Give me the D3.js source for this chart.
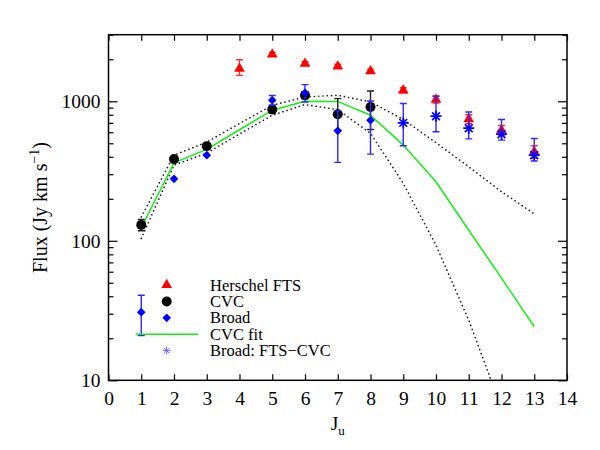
<!DOCTYPE html>
<html lang="en">
<head>
<meta charset="UTF-8">
<title>CO ladder fluxes</title>
<script src="https://d3js.org/d3.v7.min.js"></script>
<style>
    body { margin: 0; background: #fff; }
    svg { font-family: "Liberation Serif", "Times New Roman", serif; }
</style>
</head>
<body>
<svg id="chart" width="600" height="450"></svg>
<script>
// ---- data ----
// Herschel FTS
const ftsJ = [4, 5, 6, 7, 8, 9, 10, 11, 12, 13];
const ftsFlux = [1712, 2167, 1858, 1778, 1645, 1198, 1028, 744, 621, 435];
const ftsLo = [1533, 2100, 1800, 1720, 1590, 1150, 970, 690, 570, 390];
const ftsHi = [1985, 2240, 1920, 1840, 1700, 1250, 1090, 800, 670, 480];

// CVC
const cvcJ = [1, 2, 3, 5, 6, 7, 8];
const cvcFlux = [130, 385, 477, 873, 1104, 807, 911];
const cvcLo = [118, 370, 460, 820, 1040, 620, 628];
const cvcHi = [142, 400, 495, 930, 1170, 1045, 1184];

// Broad
const broadJ = [1, 2, 3, 5, 6, 7, 8];
const broadFlux = [30.8, 278, 411, 1017, 1147, 614, 731];
const broadLo = [20.9, 278, 411, 940, 989, 365, 418];
const broadHi = [40.7, 278, 411, 1100, 1316, 853, 1005];

// Broad: FTS-CVC
const diffJ = [9, 10, 11, 12, 13];
const diffFlux = [700, 782, 641, 581, 411];
const diffLo = [480, 604, 538, 527, 373];
const diffHi = [963, 1086, 838, 740, 541];

// CVC fit and its envelope
const fitJ = [1, 2, 3, 4, 5, 6, 7, 8, 9, 10, 11, 12, 13];
const fitFlux = [124, 362, 452, 625, 863, 1000, 998, 794, 485, 265, 119, 54, 24.2];
const fitUpper = [148, 411, 510, 692, 936, 1073, 1104, 989, 740, 505, 339, 225, 156];
const fitLower = [104, 349, 425, 582, 794, 947, 870, 590, 258, 93, 27, 6.3, 1.2];

const xTicks = d3.range(0, 15);
const yMajor = [10, 100, 1000];
const yMinor = [20, 30, 40, 50, 60, 70, 80, 90, 200, 300, 400, 500, 600, 700, 800, 900, 2000, 3000];

const legendItems = ["Herschel FTS", "CVC", "Broad", "CVC fit", "Broad: FTS\u2212CVC"];

// ---- layout ----
const margin = { left: 108.5, top: 34.7, right: 33, bottom: 69.7 };
const width = 600 - margin.left - margin.right;
const height = 450 - margin.top - margin.bottom;

const svg = d3.select("#chart");
const g = svg.append("g").attr("transform", `translate(${margin.left},${margin.top})`);

const x = d3.scaleLinear().domain([0, 14]).range([0, width]);
const y = d3.scaleLog().domain([10, 3000]).range([height, 0]);

const red = "#ff0000", blue = "#0000ff", green = "#11f011";

g.append("clipPath").attr("id", "plotClip")
    .append("rect").attr("width", width).attr("height", height);

// ---- lines ----
const line = d3.line().x(d => x(d[0])).y(d => y(d[1]));

const lines = g.append("g").attr("clip-path", "url(#plotClip)");
[fitUpper, fitLower].forEach(vals => {
    lines.append("path")
        .datum(fitJ.map((j, i) => [j, vals[i]]))
        .attr("d", line)
        .attr("fill", "none")
        .attr("stroke", "#111")
        .attr("stroke-width", 1.6)
        .attr("stroke-linecap", "round")
        .attr("stroke-dasharray", "0.1,4.2");
});
lines.append("path")
    .datum(fitJ.map((j, i) => [j, fitFlux[i]]))
    .attr("d", line)
    .attr("fill", "none")
    .attr("stroke", green)
    .attr("stroke-width", 1.5);

// ---- error bars ----
function errorBars(js, lo, hi, color) {
    const eg = g.append("g").attr("stroke", color).attr("stroke-width", 1.4).attr("fill", "none");
    js.forEach((j, i) => {
        if (hi[i] === lo[i]) return;
        const cx = x(j), y0 = y(lo[i]), y1 = y(hi[i]);
        eg.append("path").attr("d", `M${cx},${y0}V${y1}M${cx - 3.5},${y0}H${cx + 3.5}M${cx - 3.5},${y1}H${cx + 3.5}`);
    });
}

const triangle = d3.symbol().type(d3.symbolTriangle).size(50);
const diamond = d3.symbol().type(d3.symbolDiamond2).size(48);
const circle = d3.symbol().type(d3.symbolCircle).size(78);
function asterisk(r) {
    const d = r * Math.SQRT1_2;
    return `M${-r},0H${r}M0,${-r}V${r}M${-d},${-d}L${d},${d}M${-d},${d}L${d},${-d}`;
}

errorBars(ftsJ, ftsLo, ftsHi, "#ff3030");
g.append("g").selectAll("path").data(ftsJ).join("path")
    .attr("d", triangle)
    .attr("transform", (j, i) => `translate(${x(j)},${y(ftsFlux[i])})`)
    .attr("fill", red);

errorBars(cvcJ, cvcLo, cvcHi, "#222");
g.append("g").selectAll("path").data(cvcJ).join("path")
    .attr("d", circle)
    .attr("transform", (j, i) => `translate(${x(j)},${y(cvcFlux[i])})`)
    .attr("fill", "#000");

errorBars(broadJ, broadLo, broadHi, "#2a2aff");
g.append("g").selectAll("path").data(broadJ).join("path")
    .attr("d", diamond)
    .attr("transform", (j, i) => `translate(${x(j)},${y(broadFlux[i])})`)
    .attr("fill", blue);

errorBars(diffJ, diffLo, diffHi, "#2a2aff");
g.append("g").selectAll("path").data(diffJ).join("path")
    .attr("d", asterisk(5.5))
    .attr("transform", (j, i) => `translate(${x(j)},${y(diffFlux[i])})`)
    .attr("fill", "none")
    .attr("stroke", blue)
    .attr("stroke-width", 1.7);

// ---- axes (ticks pointing inward, IDL style) ----
function styleAxis(sel) {
    sel.select(".domain").remove();
    sel.selectAll("line").attr("stroke", "#000").attr("stroke-width", 1.2);
    sel.selectAll("text").attr("fill", "#000").attr("font-size", 19.5)
        .attr("font-family", "\"Liberation Serif\", \"Times New Roman\", serif");
}

g.append("g").attr("transform", `translate(0,${height})`)
    .call(d3.axisBottom(x).tickValues(xTicks).tickFormat(d3.format("d")).tickSize(-6).tickPadding(11))
    .call(styleAxis);
g.append("g")
    .call(d3.axisTop(x).tickValues(xTicks).tickFormat("").tickSize(-6))
    .call(styleAxis);
g.append("g")
    .call(d3.axisLeft(y).tickValues(yMajor).tickFormat(d3.format("d")).tickSize(-9).tickPadding(8))
    .call(styleAxis);
g.append("g")
    .call(d3.axisLeft(y).tickValues(yMinor).tickFormat("").tickSize(-5))
    .call(styleAxis);
g.append("g").attr("transform", `translate(${width},0)`)
    .call(d3.axisRight(y).tickValues(yMajor).tickFormat("").tickSize(-9))
    .call(styleAxis);
g.append("g").attr("transform", `translate(${width},0)`)
    .call(d3.axisRight(y).tickValues(yMinor).tickFormat("").tickSize(-5))
    .call(styleAxis);

g.append("rect")
    .attr("width", width).attr("height", height)
    .attr("fill", "none").attr("stroke", "#000").attr("stroke-width", 1.5);

// ---- titles ----
const xTitle = svg.append("text")
    .attr("x", margin.left + width / 2).attr("y", 430)
    .attr("text-anchor", "middle").attr("font-size", 19.5);
xTitle.append("tspan").text("J");
xTitle.append("tspan").attr("dy", 5).attr("font-size", 13).text("u");

const yTitle = svg.append("text")
    .attr("transform", `translate(47,${margin.top + height / 2}) rotate(-90)`)
    .attr("text-anchor", "middle").attr("font-size", 20);
yTitle.append("tspan").text("Flux (Jy km s");
yTitle.append("tspan").attr("dy", -8).attr("font-size", 14).text("\u22121");
yTitle.append("tspan").attr("dy", 8).text(")");

// ---- legend ----
const legend = svg.append("g");
const legX = 166.7, legTextX = 210, legY0 = 285, legStep = 16.4;
legendItems.forEach((label, i) => {
    const ly = legY0 + i * legStep;
    legend.append("text")
        .attr("x", legTextX).attr("y", ly + 5.5)
        .attr("font-size", 16.5).text(label);
});
legend.append("path").attr("d", triangle)
    .attr("transform", `translate(${legX},${legY0})`).attr("fill", red);
legend.append("path").attr("d", circle)
    .attr("transform", `translate(${legX},${legY0 + legStep})`).attr("fill", "#000");
legend.append("path").attr("d", diamond)
    .attr("transform", `translate(${legX},${legY0 + 2 * legStep})`).attr("fill", blue);
legend.append("line")
    .attr("x1", 135.7).attr("x2", 198.3)
    .attr("y1", legY0 + 3 * legStep).attr("y2", legY0 + 3 * legStep)
    .attr("stroke", green).attr("stroke-width", 1.5);
legend.append("path").attr("d", asterisk(4))
    .attr("transform", `translate(${legX},${legY0 + 4 * legStep})`)
    .attr("fill", "none").attr("stroke", "#6a6aff").attr("stroke-width", 1);
</script>
</body>
</html>
